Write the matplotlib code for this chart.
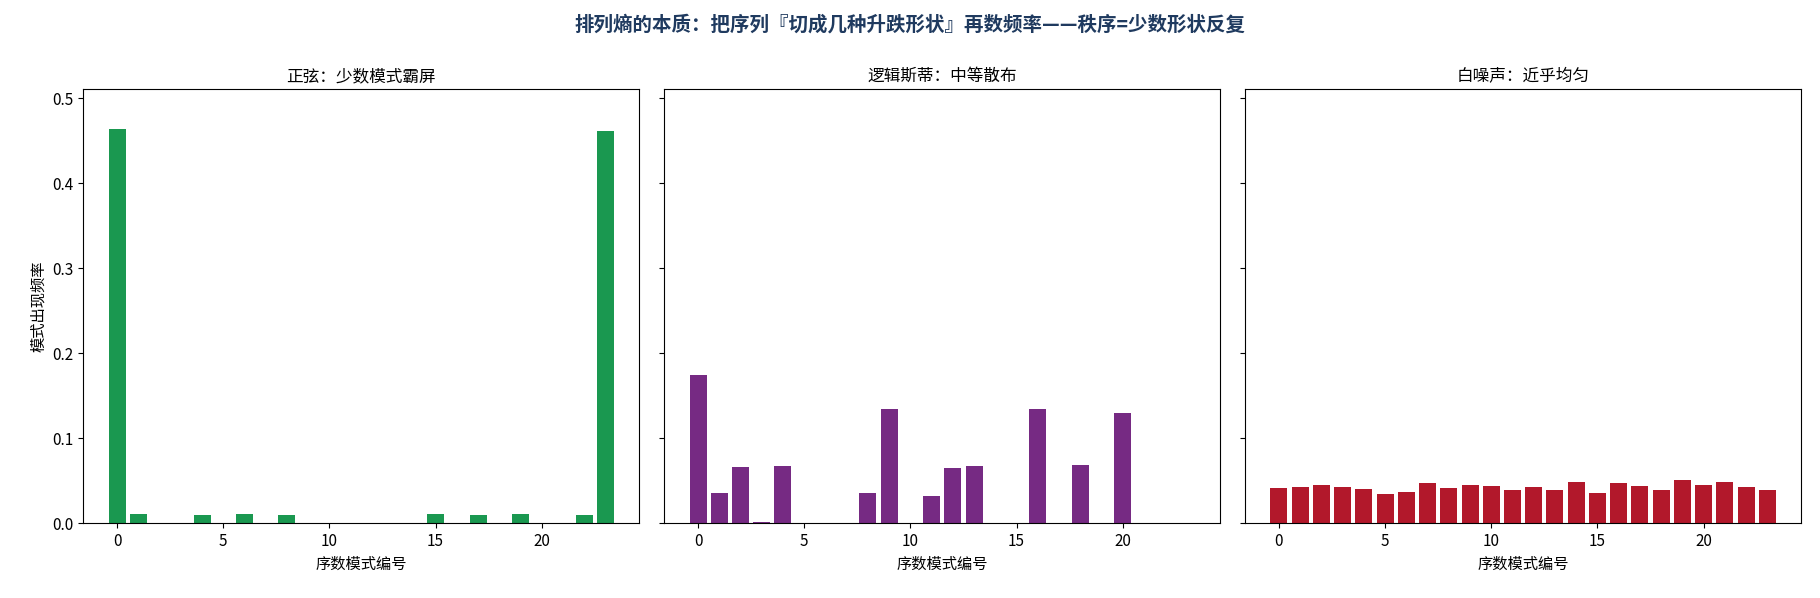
import numpy as np
import matplotlib
matplotlib.use("Agg")
import matplotlib.pyplot as plt

plt.rcParams['font.family'] = ['Noto Sans CJK SC', 'DejaVu Sans']
plt.rcParams['axes.unicode_minus'] = False

# 24 ordinal patterns (order 4)
patterns = np.arange(24)

sine_freq = [0.464, 0.011, 0, 0, 0.0098, 0, 0.011, 0, 0.0098, 0, 0, 0,
             0, 0, 0, 0.011, 0, 0.0098, 0, 0.011, 0, 0, 0.0098, 0.4616]
logistic_freq = [0.1745, 0.0357, 0.0663, 0.0016, 0.0675, 0, 0, 0, 0.0357, 0.1345, 0, 0.0322,
                 0.0651, 0.0675, 0, 0, 0.1345, 0, 0.0686, 0, 0.1298, 0, 0, 0]
noise_freq = [0.0416, 0.0427, 0.0451, 0.0427, 0.0404, 0.0345, 0.0369, 0.0475, 0.0416, 0.0451,
              0.0439, 0.0392, 0.0427, 0.0392, 0.0486, 0.0357, 0.0475, 0.0439, 0.0392, 0.0510,
              0.0451, 0.0486, 0.0427, 0.0392]

titles = ["正弦：少数模式霸屏", "逻辑斯蒂：中等散布", "白噪声：近乎均匀"]
colors = ["#1a9850", "#762a83", "#b2182b"]
series = [sine_freq, logistic_freq, noise_freq]

fig, axes = plt.subplots(1, 3, figsize=(18.2, 5.98), dpi=100, sharey=True)
fig.subplots_adjust(left=0.0458, right=0.9896, top=0.8507, bottom=0.1254, wspace=0.045)

for ax, vals, title, c in zip(axes, series, titles, colors):
    ax.bar(patterns, vals, color=c)
    ax.set_title(title, fontsize=12)
    ax.set_xlabel("序数模式编号", fontsize=11)
    ax.tick_params(labelsize=11)

axes[0].set_ylabel("模式出现频率", fontsize=11)
axes[0].set_ylim(0, max(max(s) for s in series) * 1.1)

fig.suptitle("排列熵的本质：把序列『切成几种升跌形状』再数频率——秩序=少数形状反复",
             fontsize=14, fontweight="bold", color="#1f3a5f", y=0.975)

plt.savefig("out.png", dpi=100)
